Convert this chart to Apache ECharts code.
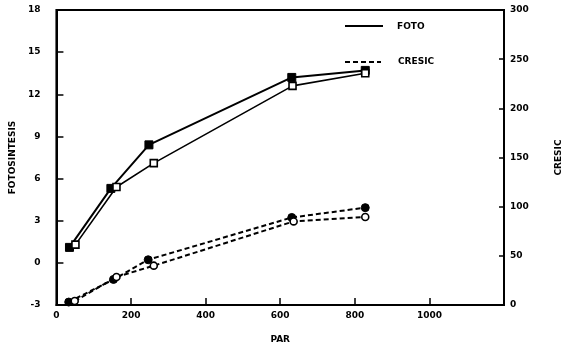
<!DOCTYPE html>
<html><head><meta charset="utf-8">
<script src="https://cdn.jsdelivr.net/npm/echarts@6/dist/echarts.min.js"></script>
<style>html,body{margin:0;padding:0;background:#fff}#c{width:571px;height:351px}</style>
</head><body><div id="c"></div>
<script>
// FOTO (left axis), solid lines
const parFotoFilled = [35, 146, 248, 631, 828];
const fotoFilled    = [1.1, 5.3, 8.4, 13.2, 13.7];
const parFotoOpen   = [51, 161, 261, 633, 828];
const fotoOpen      = [1.3, 5.4, 7.1, 12.6, 13.5];
// CRESIC (right axis), dashed lines
const parCresicFilled = [33, 153, 246, 631, 828];
const cresicFilled    = [3, 26, 46, 89, 99];
const parCresicOpen   = [49, 161, 261, 636, 828];
const cresicOpen      = [4, 28.5, 40, 85, 89.5];

const xTicks = {min: 0, max: 1200, interval: 200};
const yLeftTicks = {min: -3, max: 18, interval: 3};
const yRightTicks = {min: 0, max: 300, interval: 50};

const pair = (xs, ys) => xs.map((x, i) => [x, ys[i]]);
const FONT = 'DejaVu Sans';
const lbl = {color: '#000', fontFamily: FONT, fontWeight: 'bold', fontSize: 9};

const chart = echarts.init(document.getElementById('c'), null, {renderer: 'canvas'});
chart.setOption({
  animation: false,
  backgroundColor: '#fff',
  grid: {left: 54, right: 58, top: 10, bottom: 46, show: true, borderColor: '#000', borderWidth: 2, backgroundColor: 'transparent'},
  xAxis: {
    type: 'value', min: xTicks.min, max: xTicks.max, interval: xTicks.interval,
    name: 'PAR', nameLocation: 'middle', nameGap: 30, nameTextStyle: lbl,
    axisLine: {onZero: false, lineStyle: {color: '#000', width: 2}},
    axisTick: {inside: true, length: 7, lineStyle: {color: '#000', width: 1.5}},
    axisLabel: Object.assign({margin: 6, showMaxLabel: false, formatter: v => String(v)}, lbl),
    splitLine: {show: false}
  },
  yAxis: [{
    type: 'value', position: 'left', min: yLeftTicks.min, max: yLeftTicks.max, interval: yLeftTicks.interval,
    name: 'FOTOSINTESIS', nameLocation: 'middle', nameGap: 34, nameRotate: 90, nameTextStyle: lbl,
    axisLine: {show: true, onZero: false, lineStyle: {color: '#000', width: 2}},
    axisTick: {show: true, inside: true, length: 7, lineStyle: {color: '#000', width: 1.5}},
    axisLabel: Object.assign({margin: 16}, lbl),
    splitLine: {show: false}
  }, {
    type: 'value', position: 'right', min: yRightTicks.min, max: yRightTicks.max, interval: yRightTicks.interval,
    name: 'CRESIC', nameLocation: 'middle', nameGap: 50, nameRotate: 90, nameTextStyle: lbl,
    axisLine: {show: true, onZero: false, lineStyle: {color: '#000', width: 2}},
    axisTick: {show: true, inside: true, length: 5, lineStyle: {color: '#000', width: 1.5}},
    axisLabel: Object.assign({margin: 6}, lbl),
    splitLine: {show: false}
  }],
  graphic: [
    {type: 'line', shape: {x1: 345, y1: 26, x2: 383, y2: 26}, style: {stroke: '#000', lineWidth: 2}},
    {type: 'text', left: 397, top: 22, style: {text: 'FOTO', font: 'bold 9px "DejaVu Sans"', fill: '#000'}},
    {type: 'line', shape: {x1: 345, y1: 62, x2: 381, y2: 62}, style: {stroke: '#000', lineWidth: 2, lineDash: [5, 3]}},
    {type: 'text', left: 398, top: 57, style: {text: 'CRESIC', font: 'bold 9px "DejaVu Sans"', fill: '#000'}}
  ],
  series: [
    {type: 'line', name: 'FOTO', yAxisIndex: 0, data: pair(parFotoFilled, fotoFilled),
     symbol: 'rect', symbolSize: 8, itemStyle: {color: '#000', borderColor: '#000'},
     lineStyle: {color: '#000', width: 2}},
    {type: 'line', name: 'FOTO open', yAxisIndex: 0, data: pair(parFotoOpen, fotoOpen),
     symbol: 'rect', symbolSize: 7, itemStyle: {color: '#fff', borderColor: '#000', borderWidth: 1.6},
     lineStyle: {color: '#000', width: 1.6}},
    {type: 'line', name: 'CRESIC', yAxisIndex: 1, data: pair(parCresicFilled, cresicFilled),
     symbol: 'circle', symbolSize: 8, itemStyle: {color: '#000', borderColor: '#000'},
     lineStyle: {color: '#000', width: 2, type: [5, 3]}},
    {type: 'line', name: 'CRESIC open', yAxisIndex: 1, data: pair(parCresicOpen, cresicOpen),
     symbol: 'circle', symbolSize: 7, itemStyle: {color: '#fff', borderColor: '#000', borderWidth: 1.6},
     lineStyle: {color: '#000', width: 2, type: [5, 3]}}
  ]
});
</script>
</body></html>
